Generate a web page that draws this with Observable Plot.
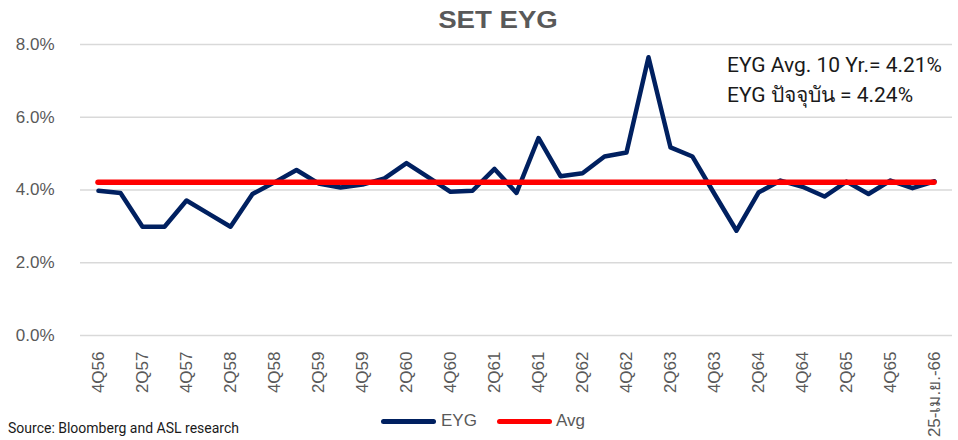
<!DOCTYPE html>
<html><head><meta charset="utf-8">
<script src="https://cdn.jsdelivr.net/npm/d3@7"></script>
<script src="https://cdn.jsdelivr.net/npm/@observablehq/plot@0.6"></script>
<style>
body{margin:0;background:#fff;}
#wrap{position:relative;width:958px;height:440px;overflow:hidden;font-family:"Liberation Sans",Arial,sans-serif;}
#chart{position:absolute;left:0;top:0;}
#chart svg text{font-size:17px !important;font-family:"Liberation Sans",Arial,sans-serif !important;}
#title{position:absolute;left:398px;width:200px;top:6px;text-align:center;font-weight:bold;font-size:24px;color:#595959;transform:scaleX(1.15);transform-origin:50% 50%;}
.note{position:absolute;left:727px;font-family:Roboto,"Noto Sans",sans-serif;font-size:21px;color:#1a1a1a;white-space:nowrap;line-height:30px;}
#source{position:absolute;left:8px;top:420px;font-family:Roboto,"Noto Sans",sans-serif;font-size:14px;color:#1a1a1a;white-space:nowrap;}
.lg{position:absolute;height:5px;border-radius:3px;top:419px;}
.lgt{position:absolute;top:411px;font-size:17px;color:#595959;}
</style></head><body>
<div id="wrap">
  <div id="chart"></div>
  <div id="title">SET EYG</div>
  <div class="note" id="note1" style="top:50px"></div>
  <div class="note" id="note2" style="top:80px"></div>
  <div id="source">Source: Bloomberg and ASL research</div>
  <div class="lg" style="left:381px;width:55px;background:#002060"></div>
  <div class="lgt" style="left:441px">EYG</div>
  <div class="lg" style="left:497px;width:55px;background:#ff0000"></div>
  <div class="lgt" style="left:556px">Avg</div>
</div>
<script>
const categories = ["4Q56","1Q57","2Q57","3Q57","4Q57","1Q58","2Q58","3Q58","4Q58","1Q59","2Q59","3Q59","4Q59","1Q60","2Q60","3Q60","4Q60","1Q61","2Q61","3Q61","4Q61","1Q62","2Q62","3Q62","4Q62","1Q63","2Q63","3Q63","4Q63","1Q64","2Q64","3Q64","4Q64","1Q65","2Q65","3Q65","4Q65","1Q66","25-เม.ย.-66"];
const eyg = [3.98,3.92,2.99,2.99,3.71,3.35,2.99,3.89,4.21,4.55,4.18,4.07,4.15,4.32,4.74,4.35,3.95,3.98,4.58,3.92,5.43,4.38,4.46,4.92,5.03,7.65,5.17,4.92,3.89,2.88,3.93,4.26,4.09,3.82,4.23,3.89,4.26,4.05,4.24];
const avgValue = 4.21;
const currentValue = 4.24;
const yTicks = [0,2,4,6,8];
const tickLabels = categories.filter((d,i)=>i%2===0);

document.getElementById("note1").textContent = "EYG Avg. 10 Yr.= " + avgValue.toFixed(2) + "%";
document.getElementById("note2").textContent = "EYG ปัจจุบัน = " + currentValue.toFixed(2) + "%";

const data = categories.map((c,i)=>({c, v: eyg[i]}));

const chart = Plot.plot({
  width: 958, height: 440,
  marginTop: 44, marginBottom: 105, marginLeft: 80, marginRight: 6,
  style: {fontFamily: "Liberation Sans, Arial, sans-serif", fontSize: "17px", color: "#595959", background: "transparent"},
  x: {type: "point", domain: categories, padding: 0.5, tickFormat: d => tickLabels.includes(d) ? d : "", tickRotate: -90, tickSize: 0, tickPadding: 16, label: null},
  y: {domain: [0,8], ticks: yTicks, tickFormat: d => d.toFixed(1) + "%", tickSize: 0, tickPadding: 26, label: null},
  marks: [
    Plot.ruleY(yTicks, {stroke: "#d9d9d9", strokeWidth: 1.5}),
    Plot.line(data, {x: "c", y: "v", stroke: "#002060", strokeWidth: 4.5, strokeLinejoin: "round", strokeLinecap: "round"}),
    Plot.ruleY([avgValue], {x1: () => categories[0], x2: () => categories[categories.length-1], stroke: "#ff0000", strokeWidth: 5.5, strokeLinecap: "round"})
  ]
});
document.getElementById("chart").appendChild(chart);
</script>
</body></html>
